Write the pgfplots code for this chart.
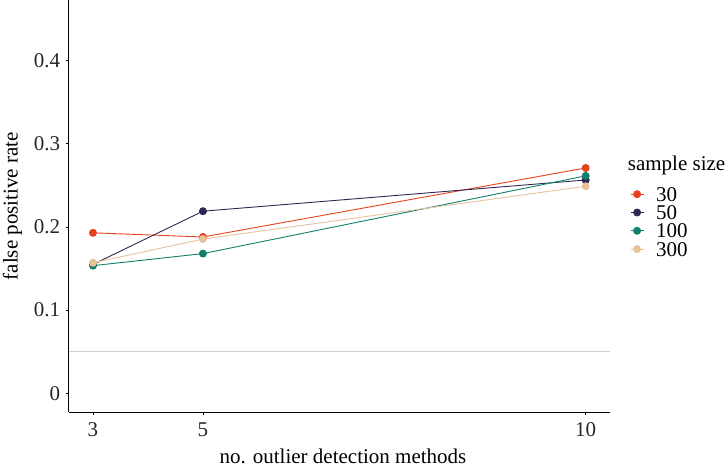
\documentclass[border=0pt]{standalone}
\usepackage{fontspec}
\setmainfont{Liberation Serif}
\usepackage{pgfplots}
\pgfplotsset{compat=1.18}
\definecolor{cA}{HTML}{E5431D}
\definecolor{cB}{HTML}{2F2752}
\definecolor{cC}{HTML}{11806A}
\definecolor{cD}{HTML}{E8C29A}
\definecolor{hl}{HTML}{CFCFCF}
\begin{document}
\begin{tikzpicture}[font=\fontsize{21bp}{25bp}\selectfont]
\begin{axis}[
  at={(0,0)}, anchor=south west,
  scale only axis, width=541.3bp, height=412.3bp,
  clip=false,
  x coord trafo/.code={\pgfmathparse{(#1)^1.53}},
  xmin=2.46, xmax=10.27, ymin=-0.02285, ymax=0.473,
  axis x line*=bottom, axis y line*=left,
  axis line style={-, black, line width=0.8bp},
  xtick={3,5,10}, xticklabels={3,5,10},
  ytick={0,0.1,0.2,0.3,0.4}, yticklabels={0,0.1,0.2,0.3,0.4},
  tick align=outside, major tick length=3bp,
  tick style={black, line width=0.8bp},
  ticklabel style={text=black!85},
  xticklabel style={yshift=-3.5bp},
  yticklabel style={xshift=-2bp},
  /pgf/number format/assume math mode=true,
  xlabel={no. outlier detection methods},
  ylabel={false positive rate},
  xlabel style={at={(axis description cs:0.5067,-0.106)}, anchor=center},
  ylabel style={at={(axis description cs:-0.1038,0.5)}, anchor=center},
  legend cell align=left,
  legend image code/.code={\draw[mark repeat=2,mark phase=2,#1] plot coordinates {(0bp,0bp) (6.5bp,0bp) (13bp,0bp)};},
  legend style={at={(rel axis cs:1.0369,0.5468)}, anchor=north west, draw=none, fill=none,
    inner sep=0pt, row sep=4bp, column sep=12bp,
    nodes={inner sep=0bp, text height=14.3bp, text depth=0bp, anchor=west}},
]
\addplot[hl, line width=1.3bp, forget plot] coordinates {(2.46,0.05) (10.27,0.05)};
\addplot[cA, line width=0.9bp, mark=*, mark size=3.5bp, mark options={fill=cA, draw=cA}] coordinates {(3,0.193) (5,0.188) (10,0.271)};
\addlegendentry{30}
\addplot[cB, line width=0.9bp, mark=*, mark size=3.5bp, mark options={fill=cB, draw=cB}] coordinates {(3,0.155) (5,0.219) (10,0.2565)};
\addlegendentry{50}
\addplot[cC, line width=0.9bp, mark=*, mark size=3.5bp, mark options={fill=cC, draw=cC}] coordinates {(3,0.1535) (5,0.168) (10,0.2615)};
\addlegendentry{100}
\addplot[cD, line width=0.9bp, mark=*, mark size=3.5bp, mark options={fill=cD, draw=cD}] coordinates {(3,0.157) (5,0.1855) (10,0.249)};
\addlegendentry{300}
\node[anchor=base west, inner sep=0pt] at (rel axis cs:1.0327,0.5865) {sample size};
\end{axis}
\pgfresetboundingbox
\useasboundingbox (-68.7bp,-55.7bp) rectangle (656.3bp,412.3bp);
\end{tikzpicture}
\end{document}
